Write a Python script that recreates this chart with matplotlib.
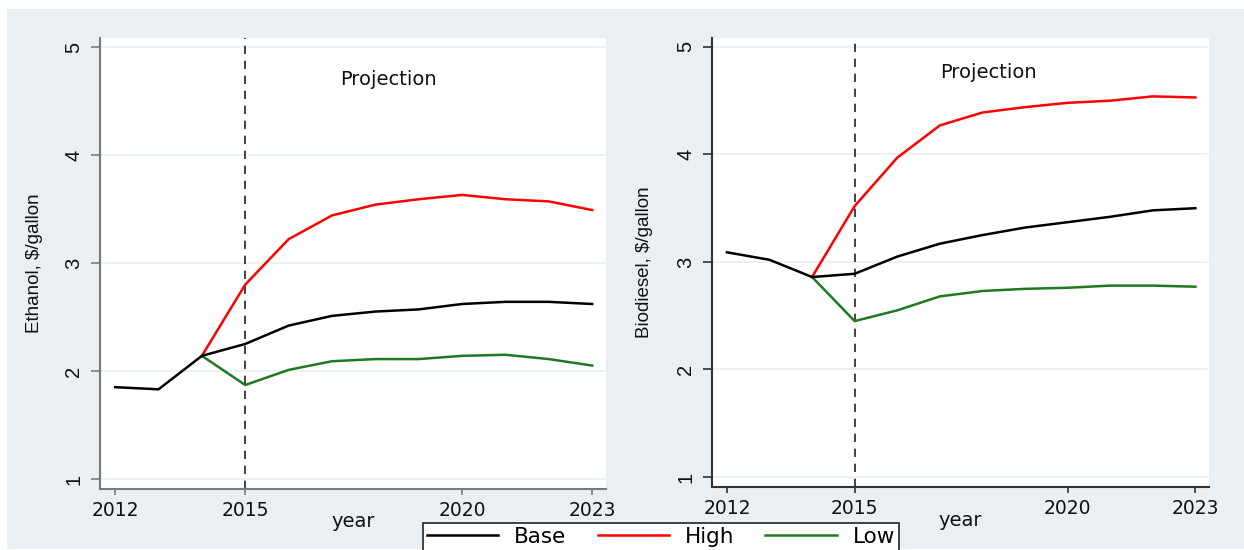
import matplotlib
matplotlib.use("Agg")
import matplotlib.pyplot as plt
from matplotlib.patches import Rectangle
from matplotlib.lines import Line2D

years = [2012, 2013, 2014, 2015, 2016, 2017, 2018, 2019, 2020, 2021, 2022, 2023]
proj_years = [2014, 2015, 2016, 2017, 2018, 2019, 2020, 2021, 2022, 2023]

# Ethanol price, $/gallon
eth_base = [1.85, 1.83, 2.14, 2.25, 2.42, 2.51, 2.55, 2.57, 2.62, 2.64, 2.64, 2.62]
eth_high = [2.14, 2.80, 3.22, 3.44, 3.54, 3.59, 3.63, 3.59, 3.57, 3.49]
eth_low = [2.14, 1.87, 2.01, 2.09, 2.11, 2.11, 2.14, 2.15, 2.11, 2.05]

# Biodiesel price, $/gallon
bio_base = [3.09, 3.02, 2.86, 2.89, 3.05, 3.17, 3.25, 3.32, 3.37, 3.42, 3.48, 3.50]
bio_high = [2.86, 3.52, 3.97, 4.27, 4.39, 4.44, 4.48, 4.50, 4.54, 4.53]
bio_low = [2.86, 2.45, 2.55, 2.68, 2.73, 2.75, 2.76, 2.78, 2.78, 2.77]

x_ticks = [2012, 2015, 2020, 2023]
y_ticks = [1, 2, 3, 4, 5]
series_names = ["Base", "High", "Low"]
series_colors = ["#000000", "#ff0000", "#1f7a1f"]

W, H = 1244, 550
fig = plt.figure(figsize=(W / 100, H / 100), dpi=100)
fig.patch.set_facecolor("white")
fig.patches.append(Rectangle((7 / W, 1 - 549 / H), (W - 7) / W, 540 / H,
                             transform=fig.transFigure, facecolor="#e9eff2",
                             edgecolor="none", zorder=-5))

narrow = ["Liberation Sans Narrow", "Liberation Sans", "DejaVu Sans"]
wide = ["DejaVu Sans"]


def make_panel(rect, base, high, low, ylabel, proj_xy, spine_col, xlab_y, ylab_x):
    ax = fig.add_axes(rect)
    ax.set_facecolor("white")
    ax.set_xlim(2011.65, 2023.32)
    ax.set_ylim(0.907, 5.083)
    ax.grid(axis="y", color="#e9f0f0", lw=1.2)
    ax.set_axisbelow(True)
    for s in ("top", "right"):
        ax.spines[s].set_visible(False)
    for s in ("left", "bottom"):
        ax.spines[s].set_color(spine_col)
        ax.spines[s].set_linewidth(1.5)
    ax.set_xticks(x_ticks)
    ax.set_yticks(y_ticks)
    ax.tick_params(axis="y", direction="out", length=6.5, width=1.2,
                   color=spine_col, pad=5.5)
    ax.tick_params(axis="x", direction="out", length=4, width=1.2,
                   color=spine_col, pad=4.5)
    for lab in ax.get_xticklabels():
        lab.set_family(wide)
        lab.set_fontsize(13.5)
        lab.set_color("#111111")
    for lab in ax.get_yticklabels():
        lab.set_family(narrow)
        lab.set_fontsize(14.5)
        lab.set_rotation(90)
        lab.set_va("center")
        lab.set_color("#111111")

    ax.axvline(2015, color="#222222", lw=1.2, ls=(0, (5, 4)), zorder=2)
    ax.plot(proj_years, high, color=series_colors[1], lw=1.8, zorder=3)
    ax.plot(proj_years, low, color=series_colors[2], lw=1.8, zorder=3)
    ax.plot(years, base, color=series_colors[0], lw=1.8, zorder=4)

    ax.text(proj_xy[0], proj_xy[1], "Projection", family=wide, fontsize=14,
            ha="center", va="center", color="#111111")
    ax.set_ylabel(ylabel, family=narrow, fontsize=13.5, color="#111111",
                  va="center", ha="center")
    ax.yaxis.set_label_coords(ylab_x, 0.5)
    ax.set_xlabel("year", family=wide, fontsize=14, color="#111111",
                  va="center", ha="center")
    ax.xaxis.set_label_coords(0.5, xlab_y)
    return ax


make_panel([100 / W, 1 - 489 / H, 506 / W, 451 / H], eth_base, eth_high, eth_low,
           "Ethanol, \\$/gallon", (2018.3, 4.70), "#7a7a7a", -0.073, -0.130)
make_panel([712 / W, 1 - 487 / H, 497 / W, 449 / H], bio_base, bio_high, bio_low,
           "Biodiesel, \\$/gallon", (2018.15, 4.76), "#333333", -0.0735, -0.135)

handles = [Line2D([], [], color=c, lw=1.8) for c in series_colors]
leg = fig.legend(handles, series_names, ncol=3, loc="center",
                 bbox_to_anchor=(661 / W, 1 - 537 / H),
                 prop={"family": "DejaVu Sans", "size": 15.5},
                 frameon=True, fancybox=False, handlelength=3.3,
                 handletextpad=0.75, columnspacing=1.45, borderpad=0.2,
                 borderaxespad=0)
leg.get_frame().set_edgecolor("#222222")
leg.get_frame().set_linewidth(1.2)
leg.get_frame().set_facecolor("white")
leg.get_frame().set_alpha(1.0)

fig.savefig("out.png", dpi=100)
